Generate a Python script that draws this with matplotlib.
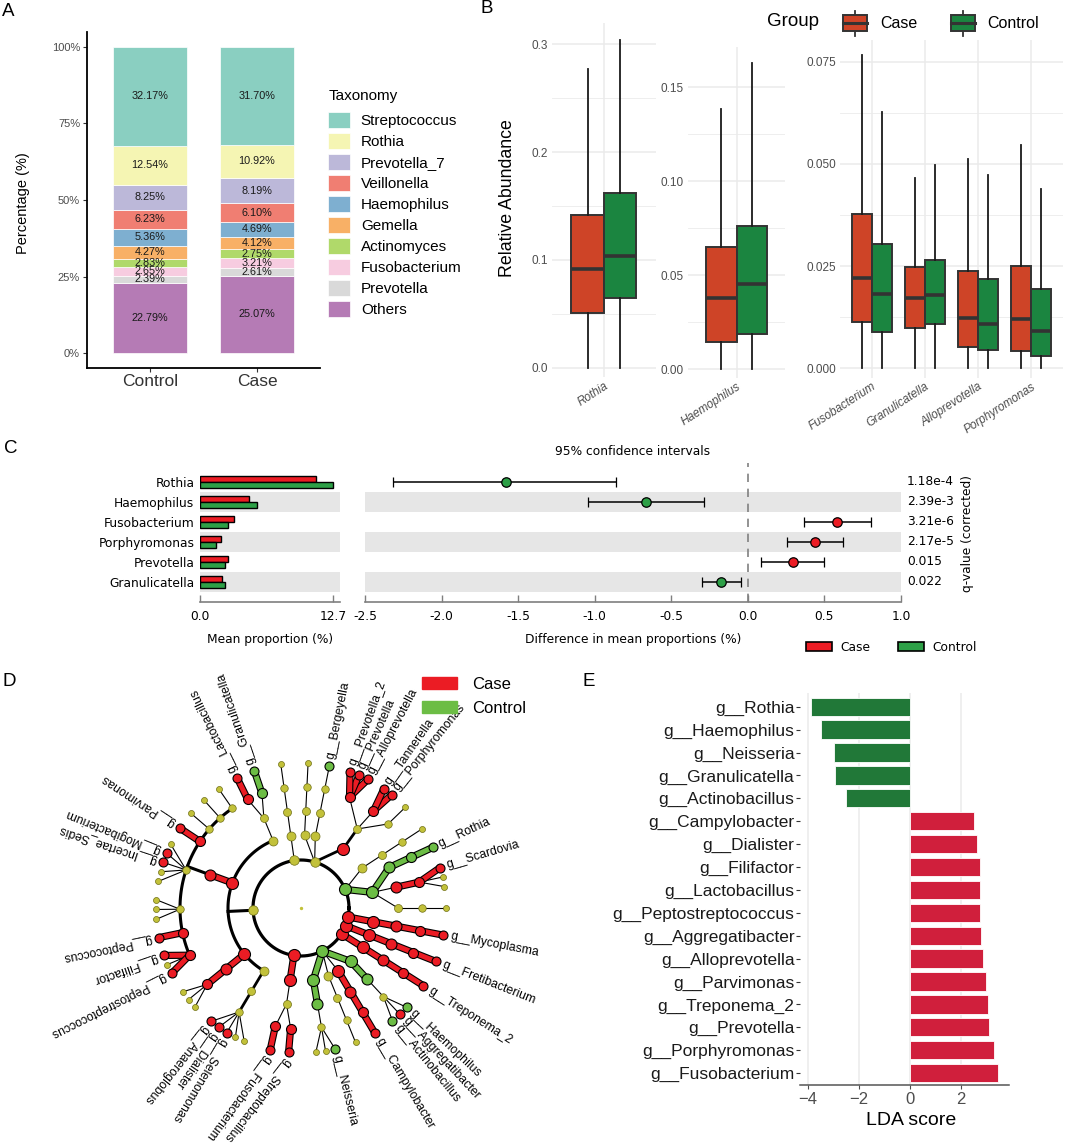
import numpy as np
import matplotlib.pyplot as plt
import matplotlib.patheffects as pe
from matplotlib.patches import Patch, Rectangle
from matplotlib.ticker import FormatStrFormatter, MultipleLocator
from matplotlib.transforms import ScaledTranslation

plt.rcParams['font.family'] = ['Liberation Sans', 'DejaVu Sans']

# ---------------- data: panel A (mean composition, %) ----------------
a_groups = ["Control", "Case"]
a_taxa = ["Streptococcus", "Rothia", "Prevotella_7", "Veillonella", "Haemophilus",
          "Gemella", "Actinomyces", "Fusobacterium", "Prevotella", "Others"]
a_control = [32.17, 12.54, 8.25, 6.23, 5.36, 4.27, 2.83, 2.65, 2.39, 22.79]
a_case = [31.70, 10.92, 8.19, 6.10, 4.69, 4.12, 2.75, 3.21, 2.61, 25.07]
a_colors = ["#8ACFC1", "#F5F5B3", "#BCB8D9", "#F07E72", "#7EAFD0",
            "#F8B066", "#B0D96A", "#F7CCE0", "#D9D9D9", "#B57BB5"]

# ---------------- data: panel B (relative abundance boxplots) ----------------
b_genera = ["Rothia", "Haemophilus", "Fusobacterium", "Granulicatella", "Alloprevotella", "Porphyromonas"]
b_case_low = [0, 0, 0, 0, 0, 0]
b_case_q1 = [0.0510, 0.0144, 0.0114, 0.0098, 0.0053, 0.0041]
b_case_med = [0.0913, 0.0378, 0.0220, 0.0171, 0.0122, 0.0120]
b_case_q3 = [0.1417, 0.0649, 0.0378, 0.0247, 0.0239, 0.0249]
b_case_high = [0.2768, 0.1386, 0.0766, 0.0465, 0.0512, 0.0546]
b_ctrl_low = [0, 0, 0, 0, 0, 0]
b_ctrl_q1 = [0.0644, 0.0186, 0.0088, 0.0108, 0.0045, 0.0031]
b_ctrl_med = [0.1033, 0.0454, 0.0182, 0.0178, 0.0108, 0.0091]
b_ctrl_q3 = [0.1623, 0.0764, 0.0304, 0.0265, 0.0218, 0.0193]
b_ctrl_high = [0.3040, 0.1631, 0.0628, 0.0497, 0.0473, 0.0439]

# ---------------- data: panel C (STAMP extended error bars) ----------------
c_genera = ["Rothia", "Haemophilus", "Fusobacterium", "Porphyromonas", "Prevotella", "Granulicatella"]
c_mean_case = [11.08, 4.70, 3.28, 2.05, 2.71, 2.15]
c_mean_control = [12.70, 5.42, 2.65, 1.56, 2.38, 2.38]
c_diff = [-1.58, -0.663, 0.585, 0.436, 0.294, -0.174]
c_ci_low = [-2.32, -1.043, 0.368, 0.255, 0.085, -0.300]
c_ci_high = [-0.858, -0.287, 0.801, 0.620, 0.497, -0.045]
c_qvalues = ["1.18e-4", "2.39e-3", "3.21e-6", "2.17e-5", "0.015", "0.022"]

# ---------------- data: panel D (LEfSe cladogram) ----------------
CLOS = "p__Firmicutes|c__Clostridia|o__Clostridiales|"
clado_leaves = [
    "p__Actinobacteria|c__Actinobacteria|o__Actinomycetales|f__Actinomycetaceae|g__Actinomyces",
    "p__Actinobacteria|c__Actinobacteria|o__Bifidobacteriales|f__Bifidobacteriaceae|g__Bifidobacterium",
    "p__Actinobacteria|c__Actinobacteria|o__Bifidobacteriales|f__Bifidobacteriaceae|g__Parascardovia",
    "p__Actinobacteria|c__Actinobacteria|o__Bifidobacteriales|f__Bifidobacteriaceae|g__Scardovia",
    "p__Actinobacteria|c__Actinobacteria|o__Micrococcales|f__Micrococcaceae|g__Rothia",
    "p__Actinobacteria|c__Coriobacteriia|o__Coriobacteriales|f__Atopobiaceae|g__Atopobium",
    "p__Bacteroidetes|c__Bacteroidia|o__Bacteroidales|f__Bacteroidaceae|g__Bacteroides",
    "p__Bacteroidetes|c__Bacteroidia|o__Bacteroidales|f__Porphyromonadaceae|g__Porphyromonas",
    "p__Bacteroidetes|c__Bacteroidia|o__Bacteroidales|f__Porphyromonadaceae|g__Tannerella",
    "p__Bacteroidetes|c__Bacteroidia|o__Bacteroidales|f__Prevotellaceae|g__Alloprevotella",
    "p__Bacteroidetes|c__Bacteroidia|o__Bacteroidales|f__Prevotellaceae|g__Prevotella",
    "p__Bacteroidetes|c__Bacteroidia|o__Bacteroidales|f__Prevotellaceae|g__Prevotella_2",
    "p__Bacteroidetes|c__Flavobacteriia|o__Flavobacteriales|f__Weeksellaceae|g__Bergeyella",
    "p__Bacteroidetes|c__Sphingobacteriia|o__Sphingobacteriales|f__Sphingobacteriaceae|g__Sphingobacterium",
    "p__Saccharibacteria|c__Saccharimonadia|o__Saccharimonadales|f__Saccharimonadaceae|g__TM7x",
    "p__Firmicutes|c__Bacilli|o__Lactobacillales|f__Carnobacteriaceae|g__Granulicatella",
    "p__Firmicutes|c__Bacilli|o__Lactobacillales|f__Lactobacillaceae|g__Lactobacillus",
    CLOS + "f__Ruminococcaceae|g__Ruminococcaceae_UCG-014",
    CLOS + "f__Lachnospiraceae|g__Oribacterium",
    CLOS + "f__Clostridiaceae_1|g__Clostridium_sensu_stricto_1",
    CLOS + "f__Family_XI|g__Parvimonas",
    CLOS + "f__Family_XIII|g__Eubacterium_brachy_group",
    CLOS + "f__Family_XIII|g__Mogibacterium",
    CLOS + "f__Family_XIII|g__Incertae_Sedis",
    CLOS + "f__Family_XIII|g__Eubacterium_nodatum_group",
    CLOS + "f__Family_XIII|g__Family_XIII_UCG-001",
    CLOS + "f__Eubacteriaceae|g__Eubacterium",
    CLOS + "f__Eubacteriaceae|g__Pseudoramibacter",
    CLOS + "f__Eubacteriaceae|g__Acetobacterium",
    CLOS + "f__Peptococcaceae|g__Peptococcus",
    CLOS + "f__Peptostreptococcaceae|g__Filifactor",
    CLOS + "f__Peptostreptococcaceae|g__Peptoanaerobacter",
    CLOS + "f__Peptostreptococcaceae|g__Peptostreptococcus",
    "p__Firmicutes|c__Erysipelotrichia|o__Erysipelotrichales|f__Erysipelotrichaceae|g__Solobacterium",
    "p__Firmicutes|c__Erysipelotrichia|o__Erysipelotrichales|f__Erysipelotrichaceae|g__Bulleidia",
    "p__Firmicutes|c__Erysipelotrichia|o__Erysipelotrichales|f__Erysipelotrichaceae|g__Catenibacterium",
    "p__Firmicutes|c__Negativicutes|o__Selenomonadales|f__Veillonellaceae|g__Anaeroglobus",
    "p__Firmicutes|c__Negativicutes|o__Selenomonadales|f__Veillonellaceae|g__Dialister",
    "p__Firmicutes|c__Negativicutes|o__Selenomonadales|f__Veillonellaceae|g__Selenomonas",
    "p__Firmicutes|c__Negativicutes|o__Selenomonadales|f__Veillonellaceae|g__Veillonella",
    "p__Firmicutes|c__Negativicutes|o__Selenomonadales|f__Veillonellaceae|g__Megasphaera",
    "p__Fusobacteria|c__Fusobacteriia|o__Fusobacteriales|f__Fusobacteriaceae|g__Fusobacterium",
    "p__Fusobacteria|c__Fusobacteriia|o__Fusobacteriales|f__Leptotrichiaceae|g__Streptobacillus",
    "p__Proteobacteria|c__Betaproteobacteria|o__Neisseriales|f__Neisseriaceae|g__Kingella",
    "p__Proteobacteria|c__Betaproteobacteria|o__Neisseriales|f__Neisseriaceae|g__Eikenella",
    "p__Proteobacteria|c__Betaproteobacteria|o__Neisseriales|f__Neisseriaceae|g__Neisseria",
    "p__Proteobacteria|c__Deltaproteobacteria|o__Desulfobacterales|f__Desulfobulbaceae|g__Desulfobulbus",
    "p__Proteobacteria|c__Epsilonproteobacteria|o__Campylobacterales|f__Campylobacteraceae|g__Campylobacter",
    "p__Proteobacteria|c__Gammaproteobacteria|o__Pasteurellales|f__Pasteurellaceae|g__Actinobacillus",
    "p__Proteobacteria|c__Gammaproteobacteria|o__Pasteurellales|f__Pasteurellaceae|g__Aggregatibacter",
    "p__Proteobacteria|c__Gammaproteobacteria|o__Pasteurellales|f__Pasteurellaceae|g__Haemophilus",
    "p__Spirochaetes|c__Spirochaetia|o__Spirochaetales|f__Spirochaetaceae|g__Treponema_2",
    "p__Synergistetes|c__Synergistia|o__Synergistales|f__Synergistaceae|g__Fretibacterium",
    "p__Tenericutes|c__Mollicutes|o__Mycoplasmatales|f__Mycoplasmataceae|g__Mycoplasma",
]
case_clades = [
    "o__Bifidobacteriales", "f__Bifidobacteriaceae", "g__Scardovia", "c__Bacteroidia",
    "f__Porphyromonadaceae", "g__Porphyromonas", "g__Tannerella", "f__Prevotellaceae",
    "g__Alloprevotella", "g__Prevotella", "g__Prevotella_2", "f__Lactobacillaceae", "g__Lactobacillus",
    "c__Clostridia", "o__Clostridiales", "f__Family_XI", "g__Parvimonas", "g__Mogibacterium",
    "g__Incertae_Sedis", "f__Peptococcaceae", "g__Peptococcus", "f__Peptostreptococcaceae",
    "g__Filifactor", "g__Peptostreptococcus", "c__Erysipelotrichia", "o__Erysipelotrichales",
    "f__Erysipelotrichaceae", "g__Anaeroglobus", "g__Dialister", "g__Selenomonas",
    "p__Fusobacteria", "c__Fusobacteriia", "f__Fusobacteriaceae", "g__Fusobacterium",
    "f__Leptotrichiaceae", "g__Streptobacillus", "c__Epsilonproteobacteria", "o__Campylobacterales",
    "f__Campylobacteraceae", "g__Campylobacter", "g__Aggregatibacter", "p__Spirochaetes",
    "c__Spirochaetia", "o__Spirochaetales", "f__Spirochaetaceae", "g__Treponema_2",
    "p__Synergistetes", "c__Synergistia", "o__Synergistales", "f__Synergistaceae", "g__Fretibacterium",
    "p__Tenericutes", "c__Mollicutes", "o__Mycoplasmatales", "f__Mycoplasmataceae", "g__Mycoplasma",
]
control_clades = [
    "p__Actinobacteria", "c__Actinobacteria", "o__Micrococcales", "f__Micrococcaceae", "g__Rothia",
    "g__Bergeyella", "f__Carnobacteriaceae", "g__Granulicatella", "p__Proteobacteria",
    "c__Betaproteobacteria", "o__Neisseriales", "g__Neisseria", "c__Gammaproteobacteria",
    "o__Pasteurellales", "g__Actinobacillus", "g__Haemophilus",
]

# ---------------- data: panel E (LDA scores) ----------------
e_genera = ["g__Rothia", "g__Haemophilus", "g__Neisseria", "g__Granulicatella", "g__Actinobacillus",
            "g__Campylobacter", "g__Dialister", "g__Filifactor", "g__Lactobacillus",
            "g__Peptostreptococcus", "g__Aggregatibacter", "g__Alloprevotella", "g__Parvimonas",
            "g__Treponema_2", "g__Prevotella", "g__Porphyromonas", "g__Fusobacterium"]
e_lda = [-3.88, -3.49, -2.98, -2.92, -2.49, 2.51, 2.60, 2.73, 2.74, 2.74, 2.76, 2.84,
         2.98, 3.03, 3.09, 3.30, 3.45]

W, H = 1070, 1145
fig = plt.figure(figsize=(W / 100, H / 100), dpi=100)


def px_axes(left, top, right, bottom):
    return fig.add_axes([left / W, 1 - bottom / H, (right - left) / W, (bottom - top) / H])


def px_text(x, y, s, **kw):
    return fig.text(x / W, 1 - y / H, s, **kw)


for letter, x, y in [("A", 2, 3), ("B", 480, 0), ("C", 4, 440), ("D", 3, 673), ("E", 582, 673)]:
    px_text(x, y, letter, fontsize=13.5, va="top", ha="left")

# ======================= panel A =======================
axA = px_axes(87, 32, 320, 368)
for gi, vals in enumerate([a_control, a_case]):
    v = np.array(vals)[::-1]
    frac = v / v.sum()
    bottoms = np.concatenate([[0], np.cumsum(frac)[:-1]])
    axA.bar(gi, frac, width=0.69, bottom=bottoms, color=a_colors[::-1],
            edgecolor="white", linewidth=0.5)
    for f, b, val in zip(frac, bottoms, v):
        axA.text(gi, b + f / 2, f"{val:.2f}%", ha="center", va="center",
                 fontsize=7.8, color="#1a1a1a")
axA.set_xlim(-0.59, 1.59)
axA.set_ylim(-0.049, 1.049)
axA.set_xticks([0, 1])
axA.set_xticklabels(a_groups, fontsize=12.5, color="#333333")
axA.set_yticks([0, 0.25, 0.5, 0.75, 1.0])
axA.set_yticklabels(["0%", "25%", "50%", "75%", "100%"], fontsize=8, color="#4D4D4D")
axA.tick_params(axis="both", length=3, width=0.8, color="#333333", pad=2)
axA.tick_params(axis="x", pad=1)
for s in ["top", "right"]:
    axA.spines[s].set_visible(False)
for s in ["left", "bottom"]:
    axA.spines[s].set_linewidth(1.3)
axA.set_ylabel("Percentage (%)", fontsize=10.5)
axA.yaxis.set_label_coords(-0.245, 0.49)
px_text(329, 96, "Taxonomy", fontsize=11, ha="left", va="center")
fig.legend(handles=[Patch(facecolor=c, edgecolor="white", linewidth=0.5) for c in a_colors],
           labels=a_taxa, loc="upper left", bbox_to_anchor=(328 / W, 1 - 112 / H),
           frameon=False, fontsize=11, handlelength=1.45, handleheight=1.2,
           labelspacing=0.33, handletextpad=0.7, borderpad=0, borderaxespad=0)

# ======================= panel B =======================
CASE_B, CTRL_B = "#CE4427", "#1B8540"


def box_stats(i, low, q1, med, q3, high):
    return dict(whislo=low[i], q1=q1[i], med=med[i], q3=q3[i], whishi=high[i], fliers=[])


facets = [
    ((551.7, 23.3, 656, 377), [0], (-0.0086, 0.3195), 0.1, 0.05, "%.1f"),
    ((688, 46.7, 785, 378), [1], (-0.0046, 0.1716), 0.05, 0.025, "%.2f"),
    ((840, 40, 1063, 378), [2, 3, 4, 5], (-0.0024, 0.0803), 0.025, 0.0125, "%.3f"),
]
for rect, idx, ylim, major, minor, fmt in facets:
    ax = px_axes(*rect)
    pos = np.arange(len(idx))
    for off, col, arrs in [(-0.1875, CASE_B, (b_case_low, b_case_q1, b_case_med, b_case_q3, b_case_high)),
                           (0.1875, CTRL_B, (b_ctrl_low, b_ctrl_q1, b_ctrl_med, b_ctrl_q3, b_ctrl_high))]:
        stats = [box_stats(i, *arrs) for i in idx]
        ax.bxp(stats, positions=pos + off, widths=0.375, patch_artist=True, showcaps=False,
               showfliers=False, manage_ticks=False,
               boxprops=dict(facecolor=col, edgecolor="#333333", linewidth=1.4),
               medianprops=dict(color="#333333", linewidth=2.6, solid_capstyle="butt"),
               whiskerprops=dict(color="#1a1a1a", linewidth=1.3))
    ax.set_xlim(-0.6, len(idx) - 0.4)
    ax.set_ylim(*ylim)
    ax.set_xticks(pos)
    ax.set_xticklabels([b_genera[i] for i in idx], rotation=33, ha="right", va="top",
                       rotation_mode="anchor", fontsize=10.3, style="italic", color="#4D4D4D")
    for lab in ax.get_xticklabels():
        lab.set_transform(lab.get_transform() + ScaledTranslation(12 / 100, 0, fig.dpi_scale_trans))
    ax.yaxis.set_major_locator(MultipleLocator(major))
    ax.yaxis.set_minor_locator(MultipleLocator(minor))
    ax.yaxis.set_major_formatter(FormatStrFormatter(fmt))
    ax.tick_params(axis="both", which="both", length=0, labelsize=8.5, labelcolor="#4D4D4D")
    ax.tick_params(axis="y", pad=3)
    ax.tick_params(axis="x", pad=2)
    ax.grid(which="major", color="#EBEBEB", linewidth=1.1)
    ax.grid(which="minor", axis="y", color="#EBEBEB", linewidth=0.6)
    ax.set_axisbelow(True)
    for s in ax.spines.values():
        s.set_visible(False)
px_text(508, 198, "Relative Abundance", rotation=90, ha="center", va="center", fontsize=12.8)

axBL = px_axes(760, 4, 1070, 42)
axBL.set_xlim(760, 1070)
axBL.set_ylim(42, 4)
axBL.axis("off")
axBL.text(767, 22, "Group", va="center", ha="left", fontsize=13.5)
for x0, col, lab in [(843.3, CASE_B, "Case"), (950.7, CTRL_B, "Control")]:
    axBL.plot([x0 + 12, x0 + 12], [10.5, 35.5], color="#333333", lw=1.3)
    axBL.add_patch(Rectangle((x0, 15), 24, 16, facecolor=col, edgecolor="#333333", lw=1.4, zorder=3))
    axBL.plot([x0, x0 + 24], [23, 23], color="#333333", lw=2.2, zorder=4)
    axBL.text(x0 + 37, 23, lab, va="center", ha="left", fontsize=11.5)

# ======================= panel C =======================
CASE_C, CTRL_C = "#EC1C24", "#2DA047"
cfont = dict(family="DejaVu Sans", fontsize=8.8)
rows = np.arange(len(c_genera))
axCl = px_axes(200, 463, 340, 601.7)
axCr = px_axes(365, 463, 901, 601.7)
for ax in (axCl, axCr):
    ax.set_ylim(6.0, -0.935)
    for i in rows[1::2]:
        ax.axhspan(i - 0.5, i + 0.5, color="#E6E6E6", lw=0, zorder=0)
    for s in ["top", "right", "left"]:
        ax.spines[s].set_visible(False)
    ax.spines["bottom"].set_color("#7F7F7F")
    ax.spines["bottom"].set_linewidth(1.2)
    ax.tick_params(axis="x", direction="in", length=5, width=1, color="#7F7F7F", pad=6)

axCl.barh(rows - 0.15, c_mean_case, height=0.3, color=CASE_C, edgecolor="black", linewidth=1, zorder=2)
axCl.barh(rows + 0.15, c_mean_control, height=0.3, color=CTRL_C, edgecolor="black", linewidth=1, zorder=2)
axCl.set_xlim(0, 13.38)
cmax = max(max(c_mean_case), max(c_mean_control))
axCl.set_xticks([0, cmax])
axCl.set_xticklabels(["%.1f" % 0, "%.1f" % cmax], **cfont)
axCl.set_yticks(rows)
axCl.set_yticklabels(c_genera, **cfont)
axCl.tick_params(axis="y", length=0, pad=4)
axCl.set_xlabel("Mean proportion (%)", labelpad=7, **cfont)

for i in rows:
    col = CASE_C if c_diff[i] > 0 else CTRL_C
    axCr.errorbar(c_diff[i], i, xerr=[[c_diff[i] - c_ci_low[i]], [c_ci_high[i] - c_diff[i]]],
                  fmt="o", color="black", mfc=col, mec="black", ms=6.8, mew=0.9,
                  capsize=3.5, elinewidth=1.1, capthick=1, zorder=3)
axCr.axvline(0, color="#808080", linestyle=(0, (5, 4)), lw=1.2, zorder=1)
axCr.set_xlim(-2.5, 1.0)
xt = np.arange(-2.5, 1.01, 0.5)
axCr.set_xticks(xt)
axCr.set_xticklabels(["%.1f" % t for t in xt], **cfont)
axCr.set_yticks([])
axCr.set_xlabel("Difference in mean proportions (%)", labelpad=7, **cfont)
axCr.set_title("95% confidence intervals", pad=6, **cfont)
for i in rows:
    axCr.text(1.011, i, c_qvalues[i], transform=axCr.get_yaxis_transform(),
              ha="left", va="center", **cfont)
px_text(968, 533, "q-value (corrected)", rotation=90, ha="center", va="center", **cfont)
fig.legend(handles=[Patch(facecolor=CASE_C, edgecolor="black", linewidth=1.2),
                    Patch(facecolor=CTRL_C, edgecolor="black", linewidth=1.2)],
           labels=["Case", "Control"], ncol=2, loc="upper left",
           bbox_to_anchor=(806 / W, 1 - 641 / H), frameon=False,
           prop=dict(family="DejaVu Sans", size=8.8), handlelength=2.15, handleheight=0.75,
           handletextpad=0.7, columnspacing=2.2, borderpad=0, borderaxespad=0)

# ======================= panel D =======================
CASE_D, CTRL_D, NS_D = "#EB1C24", "#6CBD45", "#C2C13A"
cx, cy = 301, 908
axD = px_axes(0, 660, 580, 1145)
axD.set_xlim(-cx, 580 - cx)
axD.set_ylim(-(1145 - cy), cy - 660)
axD.axis("off")

radii = {1: 48, 2: 73, 3: 97, 4: 121, 5: 145}
paths = [tuple(s.split("|")) for s in clado_leaves]


def leaf_gap(a, b):
    k = 0
    while k < 5 and a[k] == b[k]:
        k += 1
    return {4: 1.0, 3: 1.9, 2: 2.2, 1: 2.2, 0: 2.8}[k]


steps = [leaf_gap(paths[i - 1], paths[i]) for i in range(1, len(paths))]
upos = np.concatenate([[0.0], np.cumsum(steps)])
utotal = upos[-1] + leaf_gap(paths[-1], paths[0])
theta = {p: u / utotal * 2 * np.pi for p, u in zip(paths, upos)}

children = {}
for p in paths:
    for lev in range(1, 5):
        kids = children.setdefault(p[:lev], [])
        if p[:lev + 1] not in kids:
            kids.append(p[:lev + 1])


def node_angle(n):
    if n not in theta:
        theta[n] = np.mean([node_angle(c) for c in children[n]])
    return theta[n]


def n_leaves(n):
    return sum(1 for p in paths if p[:len(n)] == n)


def clade_color(n):
    if n[-1] in case_clades:
        return CASE_D
    if n[-1] in control_clades:
        return CTRL_D
    return None


all_nodes = list(children.keys()) + paths
for n in all_nodes:
    node_angle(n)


def xy(r, t):
    return r * np.cos(t), r * np.sin(t)


tt = np.linspace(0, 2 * np.pi, 400)
axD.plot(radii[1] * np.cos(tt), radii[1] * np.sin(tt), color="black", lw=2.3, zorder=1)
outline = [pe.Stroke(linewidth=5.2, foreground="black"), pe.Normal()]
for node, kids in children.items():
    lev = len(node)
    rp, rc = radii[lev], radii[lev + 1]
    tp = theta[node]
    kt = [theta[k] for k in kids]
    if len(kids) > 1 and max(kt) - min(kt) > np.radians(40):
        (x0, y0), (x1, y1) = xy(rp, tp), xy(rc, tp)
        axD.plot([x0, x1], [y0, y1], color="black", lw=2.2, zorder=1)
        arc = np.linspace(min(kt), max(kt), 120)
        axD.plot(rc * np.cos(arc), rc * np.sin(arc), color="black", lw=2.2, zorder=1)
        continue
    for k in kids:
        (x0, y0), (x1, y1) = xy(rp, tp), xy(rc, theta[k])
        pc, kc = clade_color(node), clade_color(k)
        if pc is not None and pc == kc:
            axD.plot([x0, x1], [y0, y1], color=kc, lw=3.6, zorder=2,
                     solid_capstyle="round", path_effects=outline)
        else:
            lw = 2.0 if n_leaves(k) >= 4 else 0.8
            axD.plot([x0, x1], [y0, y1], color="black", lw=lw, zorder=1)

size_col = {1: 12, 2: 12, 3: 11, 4: 10, 5: 9}
size_ns = {1: 9.5, 2: 9, 3: 8, 4: 7.5, 5: 6}
for n in all_nodes:
    lev = len(n)
    col = clade_color(n)
    x, y = xy(radii[lev], theta[n])
    if col is None:
        axD.scatter(x, y, s=(0.72 * size_ns[lev]) ** 2, color=NS_D, edgecolors="#6E6E14",
                    linewidths=0.5, zorder=4)
    else:
        axD.scatter(x, y, s=(0.72 * size_col[lev]) ** 2, color=col, edgecolors="black",
                    linewidths=0.8, zorder=5)
axD.scatter(0, 0, s=2, color=NS_D, zorder=4)

# genus labels: radial, turned toward horizontal where they would run off the bottom edge
renderer = fig.canvas.get_renderer()
floor = -(1141 - cy)
for p in paths:
    if clade_color(p) is None:
        continue
    t = theta[p]
    x, y = xy(152, t)
    tmp = axD.text(0, 0, p[-1], fontsize=8.8)
    width = tmp.get_window_extent(renderer).width
    tmp.remove()
    rot = np.degrees(t)
    while y + width * np.sin(np.radians(rot)) < floor:
        rot += -3 if rot < 270 else 3
    axD.text(x, y, p[-1], rotation=rot, rotation_mode="anchor",
             ha="left", va="center", fontsize=8.8)

fig.legend(handles=[Patch(facecolor=CASE_D, edgecolor=CASE_D), Patch(facecolor=CTRL_D, edgecolor=CTRL_D)],
           labels=["Case", "Control"], loc="upper left", bbox_to_anchor=(421.7 / W, 1 - 677 / H),
           frameon=False, fontsize=12, handlelength=2.1, handleheight=0.75,
           handletextpad=0.9, labelspacing=0.55, borderpad=0, borderaxespad=0)

# ======================= panel E =======================
CASE_E, CTRL_E = "#D01F3C", "#217838"
axE = px_axes(800, 693, 1009.3, 1085)
ye = np.arange(len(e_genera))
axE.barh(ye, e_lda, height=0.8, color=[CASE_E if v > 0 else CTRL_E for v in e_lda],
         edgecolor="white", linewidth=0.6, zorder=2)
axE.set_ylim(len(e_genera) - 0.48, -0.6)
axE.set_xlim(-4.30, 3.88)
axE.set_xticks([-4, -2, 0, 2])
axE.set_xticklabels(["\u22124", "\u22122", "0", "2"])
axE.set_yticks(ye)
axE.set_yticklabels(e_genera)
axE.tick_params(axis="y", length=3, width=0.8, color="#333333", labelsize=12.5,
                labelcolor="#1a1a1a", pad=1)
axE.tick_params(axis="x", length=3, width=0.8, color="#4D4D4D", labelsize=12,
                labelcolor="#4D4D4D", pad=2)
axE.grid(axis="x", color="#EBEBEB", linewidth=1.1)
axE.set_axisbelow(True)
for s in ["top", "right", "left"]:
    axE.spines[s].set_visible(False)
axE.spines["bottom"].set_color("#555555")
axE.spines["bottom"].set_linewidth(1.1)
axE.set_xlabel("LDA score", fontsize=14)
axE.xaxis.set_label_coords(0.53, -0.07)

fig.savefig("out.png", dpi=100)
